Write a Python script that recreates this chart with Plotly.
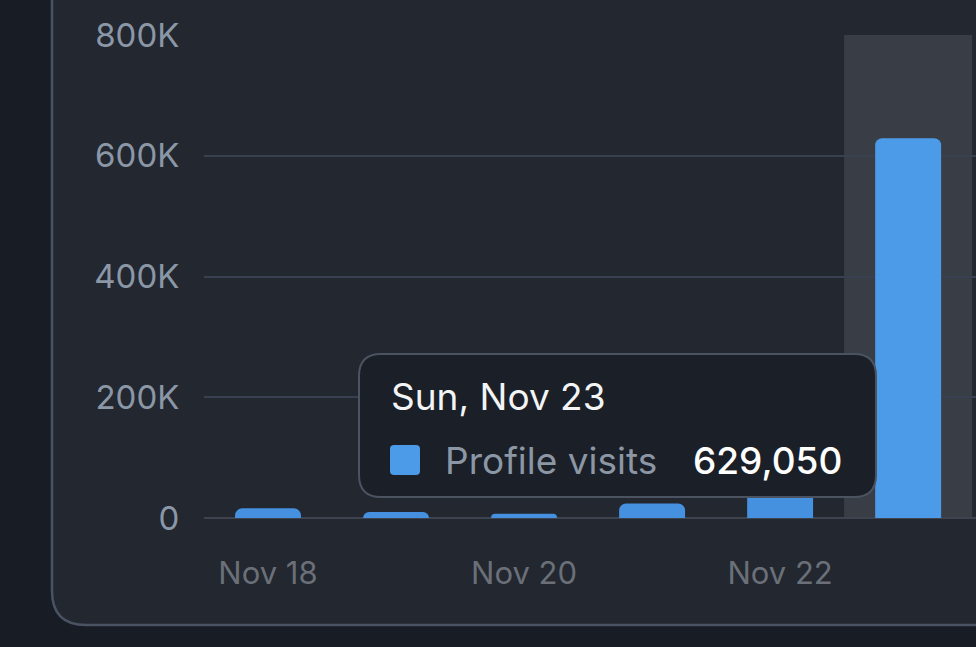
import plotly.graph_objects as go

# data
days = ["Nov 18", "Nov 19", "Nov 20", "Nov 21", "Nov 22", "Nov 23"]
profile_visits = [16000, 10000, 7000, 24000, 45000, 629050]
y_ticks = [0, 200000, 400000, 600000, 800000]
y_tick_labels = ["0", "200K", "400K", "600K", "800K"]
x_tick_days = ["Nov 18", "Nov 20", "Nov 22"]
hover_day = "Nov 23"
hover_weekday = "Sun"
series_name = "Profile visits"

# page / plot-area geometry (pixels)
W, H = 976, 647
L, R, T, B = 204, 0, 35, 129
pw, ph = W - L - R, H - T - B


def px(x):
    return (x - L) / pw


def py(y):
    return (H - B - y) / ph


def rounded_path(x0, y0, x1, y1, r, corners=(1, 1, 1, 1)):
    """svg path (paper coords) for a box given in pixels, corners tl,tr,br,bl"""
    tl, tr, br, bl = [r * c for c in corners]
    p = lambda x, y: f"{px(x):.5f},{py(y):.5f}"
    return (f"M {p(x0 + tl, y0)} L {p(x1 - tr, y0)} Q {p(x1, y0)} {p(x1, y0 + tr)} "
            f"L {p(x1, y1 - br)} Q {p(x1, y1)} {p(x1 - br, y1)} "
            f"L {p(x0 + bl, y1)} Q {p(x0, y1)} {p(x0, y1 - bl)} "
            f"L {p(x0, y0 + tl)} Q {p(x0, y0)} {p(x0 + tl, y0)} Z")


bar_blue = "#4c9be8"
colors = [bar_blue if d == hover_day else "#4590df" for d in days]

fig = go.Figure(go.Bar(
    x=days, y=profile_visits,
    marker=dict(color=colors, line=dict(width=0)),
    name=series_name,
))

hi = days.index(hover_day)
hv = profile_visits[hi]

shapes = [
    # card
    dict(type="path", xref="paper", yref="paper", layer="below",
         path=rounded_path(52, -20, 1000, 625, 34, corners=(0, 0, 0, 1)),
         fillcolor="#222730", line=dict(color="#4a5364", width=2.5)),
    # hovered column
    dict(type="rect", xref="x", yref="paper", layer="below",
         x0=hi - 0.5, x1=hi + 0.5, y0=0, y1=1,
         fillcolor="#393e46", line=dict(width=0)),
    # tooltip box
    dict(type="path", xref="paper", yref="paper", layer="above",
         path=rounded_path(359, 354, 876, 497, 22),
         fillcolor="#1b1f27", line=dict(color="#4b5361", width=2)),
    # legend square
    dict(type="path", xref="paper", yref="paper", layer="above",
         path=rounded_path(390, 445, 420, 475, 4),
         fillcolor=bar_blue, line=dict(width=0)),
]

annotations = [
    dict(text=f"{hover_weekday}, {hover_day}", xref="paper", yref="paper",
         x=px(389), y=py(397), xanchor="left", yanchor="middle", showarrow=False,
         font=dict(family="Inter", size=37, color="#f2f4f6")),
    dict(text=series_name, xref="paper", yref="paper",
         x=px(443), y=py(460), xanchor="left", yanchor="middle", showarrow=False,
         font=dict(family="Inter", size=37, color="#8b97a5")),
    dict(text=f"{hv:,}", xref="paper", yref="paper",
         x=px(844), y=py(460), xanchor="right", yanchor="middle", showarrow=False,
         font=dict(family="Inter", size=37, color="#ffffff", weight=500)),
]

fig.update_layout(
    width=W, height=H,
    margin=dict(l=L, r=R, t=T, b=B, pad=0),
    paper_bgcolor="#171c25",
    plot_bgcolor="rgba(0,0,0,0)",
    bargap=0.485,
    barcornerradius=7,
    showlegend=False,
    shapes=shapes,
    annotations=annotations,
    font=dict(family="Inter"),
)
fig.update_xaxes(
    type="category", range=[-0.5, len(days) - 0.5 + 0.03],
    tickvals=x_tick_days, ticktext=x_tick_days,
    showgrid=False, zeroline=False, showline=False,
    ticks="outside", ticklen=28, tickcolor="rgba(0,0,0,0)",
    tickfont=dict(family="Inter", size=31, color="#6b7078"),
)
fig.update_yaxes(
    range=[0, 800000], tickvals=y_ticks, ticktext=y_tick_labels,
    showgrid=True, gridcolor="#394150", gridwidth=2,
    zeroline=True, zerolinecolor="#3d4450", zerolinewidth=2,
    showline=False,
    ticks="outside", ticklen=17, tickcolor="rgba(0,0,0,0)",
    tickfont=dict(family="Inter", size=33, color="#8b97a6"),
)

# drop the default page margin so the figure sits at the window's corner
fig.write_html("out.html", config={"displayModeBar": False},
               post_script="document.body.style.margin='0';"
                           "document.body.style.background='#171c25';")
